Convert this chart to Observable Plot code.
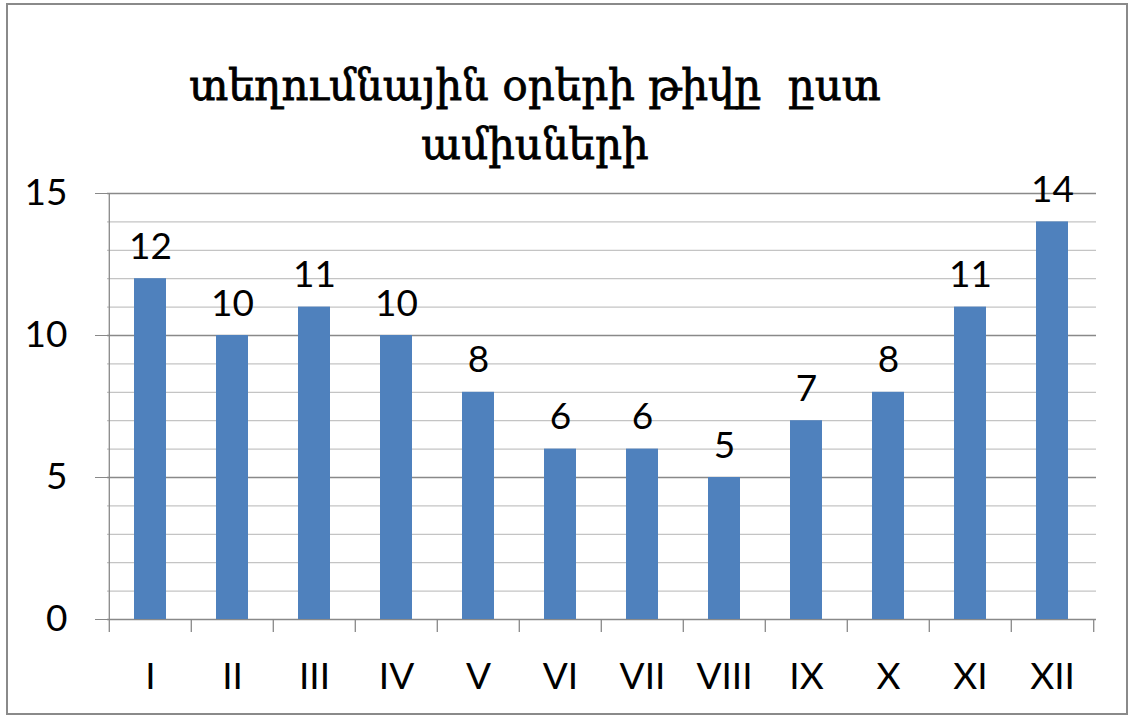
<!DOCTYPE html>
<html><head><meta charset="utf-8">
<script src="https://cdn.jsdelivr.net/npm/d3@7"></script>
<script src="https://cdn.jsdelivr.net/npm/@observablehq/plot@0.6"></script>
<style>
body{margin:0;background:#fff;}
#wrap{position:relative;width:1133px;height:716px;overflow:hidden;background:#fff;}
#border{position:absolute;left:6px;top:3px;width:1122px;height:712px;border:2px solid #8a8a8a;box-sizing:border-box;}
#title{position:absolute;left:0;top:56px;width:1070px;text-align:center;font-family:"DejaVu Serif",serif;font-size:42px;font-weight:normal;-webkit-text-stroke:0.8px #000;line-height:59px;color:#000;white-space:pre;}
#chart{position:absolute;left:0;top:0;}
</style></head>
<body>
<div id="wrap">
  <div id="border"></div>
  <div id="chart"></div>
  <div id="title"></div>
</div>
<script>
const titleLines = ["տեղումնային օրերի թիվը  ըստ", "ամիսների"];
const months = ["I","II","III","IV","V","VI","VII","VIII","IX","X","XI","XII"];
const days = [12,10,11,10,8,6,6,5,7,8,11,14];
const yMajor = [0,5,10,15];
const yMinor = [1,2,3,4,6,7,8,9,11,12,13,14];

document.getElementById("title").textContent = titleLines.join("\n");

const data = months.map((m,i)=>({month:m, days:days[i]}));
const W=1133, H=716, ml=107, mr=37, mt=193, mb=97;
const step = (W-ml-mr)/months.length;
const axisColor = "#898989";

const chart = Plot.plot({
  width:W, height:H, marginLeft:ml, marginRight:mr, marginTop:mt, marginBottom:mb,
  style:{fontFamily:"Lato, sans-serif", fontSize:"37px", color:"#000", background:"transparent", overflow:"visible"},
  x:{domain:months, paddingInner:0.605, paddingOuter:0.3025, label:null},
  y:{domain:[0,15], label:null},
  marks:[
    Plot.ruleY(yMinor,{stroke:"#c4c4c4", strokeWidth:1.3}),
    Plot.ruleY(yMajor,{stroke:axisColor, strokeWidth:1.3}),
    Plot.ruleX([months[0]],{dx:-step/2, y1:0, y2:15, stroke:axisColor, strokeWidth:1.3}),
    Plot.ruleX(months,{dx:-step/2, y1:0, y2:0, insetBottom:-13, stroke:axisColor, strokeWidth:1.3}),
    Plot.ruleX([months[months.length-1]],{dx:step/2, y1:0, y2:0, insetBottom:-13, stroke:axisColor, strokeWidth:1.3}),
    Plot.barY(data,{x:"month", y:"days", fill:"#4F81BD"}),
    Plot.text(data,{x:"month", y:"days", text:d=>String(d.days), dy:-20, lineAnchor:"bottom", fontSize:37, fill:"#000"}),
    Plot.axisY({ticks:yMajor, tickSize:12, tickPadding:28, stroke:axisColor, fill:"#000", fontSize:37}),
    Plot.axisX({tickSize:0, tickPadding:43, fill:"#000", fontSize:37})
  ]
});
document.getElementById("chart").appendChild(chart);
</script>
</body></html>
